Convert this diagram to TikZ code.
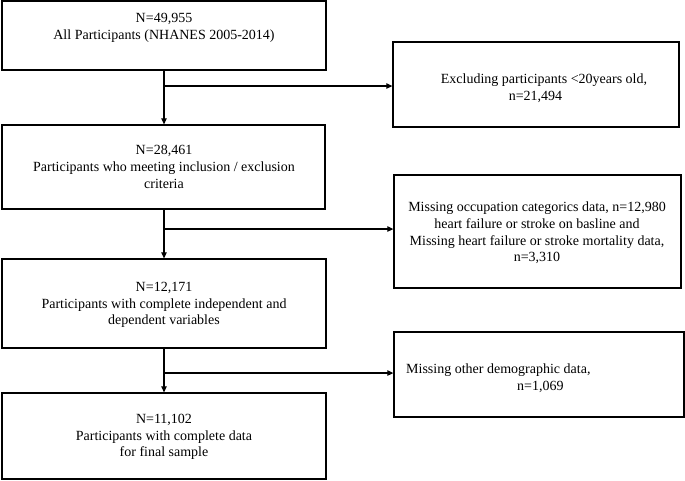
\documentclass[tikz,border=0pt]{standalone}
\usepackage{fontspec}
\setmainfont{Liberation Serif}
\usetikzlibrary{arrows.meta}
\begin{document}
\begin{tikzpicture}[x=1pt,y=-1pt,
  box/.style={draw=black, line width=1.3pt, rectangle, inner sep=0pt},
  txt/.style={inner sep=0pt, align=center, font=\fontsize{14}{16.7}\selectfont},
  arr/.style={draw=black, line width=1.2pt, -{Triangle[length=6pt,width=5.5pt]}}]
\useasboundingbox (0,0) rectangle (685,480);
% main column boxes
\node[box, minimum width=324pt, minimum height=69pt] (b1) at (164,35.5) {};
\node[box, minimum width=323pt, minimum height=84pt] (b2) at (163.5,167) {};
\node[box, minimum width=324pt, minimum height=89pt] (b3) at (164,303.5) {};
\node[box, minimum width=324pt, minimum height=86pt] (b4) at (164,436) {};
% exclusion boxes
\node[box, minimum width=286pt, minimum height=85pt] (bA) at (536,84.5) {};
\node[box, minimum width=287pt, minimum height=113pt] (bB) at (537.5,231.5) {};
\node[box, minimum width=290pt, minimum height=85pt] (bC) at (539,374.5) {};
% texts
\node[txt] (t1) at (164,28) {N=49,955\\All Participants (NHANES 2005-2014)};
\node[txt] (t2) at (164,167) {N=28,461\\Participants who meeting inclusion / exclusion\\criteria};
\node[txt] (t3) at (164,305) {N=12,171\\Participants with complete independent and\\dependent variables};
\node[txt] (t4) at (164,437) {N=11,102\\Participants with complete data\\for final sample};
\node[txt] (tA) at (544,88) {Excluding participants <20years old,\\n=21,494\hspace*{17pt}};
\node[txt] (tB) at (537,233) {Missing occupation categorics data, n=12,980\\heart failure or stroke on basline and\\Missing heart failure or stroke mortality data,\\n=3,310};
\node[txt, align=left, anchor=west] (tC) at (406,378.5) {Missing other demographic data,\\\hspace*{111pt}n=1,069};
% junctions
\coordinate (j1) at (164,86);
\coordinate (j2) at (164,229);
\coordinate (j3) at (164,373);
% connectors
\draw[arr] (b1.south -| j1) -- (b2.north -| j1);
\draw[arr] (j1) -- (j1 -| bA.west);
\draw[arr] (b2.south -| j2) -- (b3.north -| j2);
\draw[arr] (j2) -- (j2 -| bB.west);
\draw[arr] (b3.south -| j3) -- (b4.north -| j3);
\draw[arr] (j3) -- (j3 -| bC.west);
\end{tikzpicture}
\end{document}
